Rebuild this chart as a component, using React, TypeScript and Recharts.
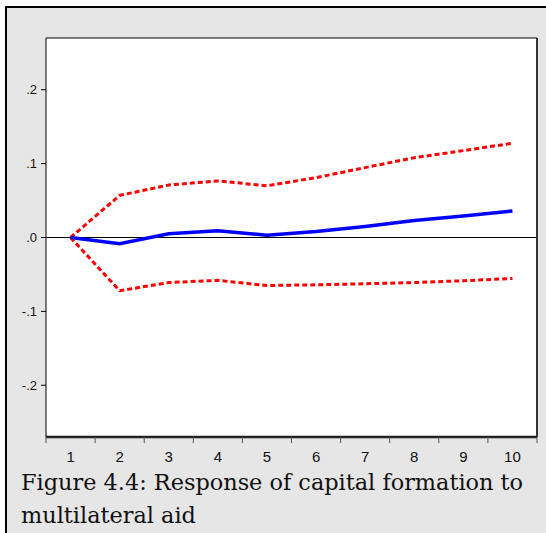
import React from "react";
import {
  LineChart,
  Line,
  XAxis,
  YAxis,
  CartesianGrid,
  ReferenceLine,
} from "recharts";

const periods = [1, 2, 3, 4, 5, 6, 7, 8, 9, 10];
const response = [0, -0.0085, 0.005, 0.009, 0.003, 0.008, 0.015, 0.023, 0.029, 0.036];
const upperBand = [0, 0.057, 0.071, 0.0766, 0.07, 0.081, 0.0946, 0.108, 0.1176, 0.1276];
const lowerBand = [0, -0.072, -0.061, -0.058, -0.065, -0.064, -0.0626, -0.061, -0.0585, -0.0554];

const yTicks = [-0.2, -0.1, 0, 0.1, 0.2];
const yTickLabels = ["-.2", "-.1", ".0", ".1", ".2"];
const xBoundaryTicks = [0.5, 1.5, 2.5, 3.5, 4.5, 5.5, 6.5, 7.5, 8.5, 9.5, 10.5];
const captionLines = ["Figure 4.4: Response of capital formation to", "multilateral aid"];

const data = periods.map((p, i) => ({
  period: p,
  response: response[i],
  upper: upperBand[i],
  lower: lowerBand[i],
}));

const tickFont = "'Liberation Sans', Arial, sans-serif";

const EmptyTick = () => <g />;

export default function App() {
  return (
    <div style={{ position: "absolute", left: 0, top: 0, width: 546, height: 533, background: "#fff", overflow: "hidden" }}>
      <div
        style={{
          position: "absolute",
          left: 5,
          top: 6,
          width: 541,
          height: 527,
          background: "#e6e6e6",
          borderLeft: "2px solid #000",
          borderTop: "2px solid #000",
          boxSizing: "border-box",
        }}
      />
      <div style={{ position: "absolute", left: 0, top: 0 }}>
        <LineChart
          width={546}
          height={533}
          data={data}
          margin={{ top: 37, right: 8, bottom: 66, left: 0 }}
        >
          <CartesianGrid horizontal={false} vertical={false} fill="#fff" fillOpacity={1} />
          <XAxis
            xAxisId="a_marks"
            dataKey="period"
            type="number"
            domain={[0.5, 10.5]}
            ticks={xBoundaryTicks}
            tick={EmptyTick}
            tickSize={6}
            tickLine={{ stroke: "#555", strokeWidth: 1 }}
            axisLine={{ stroke: "#222", strokeWidth: 2.5 }}
            height={1}
            interval={0}
            allowDataOverflow
          />
          <XAxis
            xAxisId="b_lab"
            dataKey="period"
            type="number"
            domain={[0.5, 10.5]}
            ticks={periods}
            interval={0}
            tickLine={false}
            axisLine={false}
            tickSize={5}
            tickMargin={8}
            tick={{ fill: "#111", fontSize: 15, fontFamily: tickFont }}
            height={29}
          />
          <XAxis
            xAxisId="c_top"
            orientation="top"
            type="number"
            domain={[0.5, 10.5]}
            tick={false}
            tickLine={false}
            axisLine={{ stroke: "#000", strokeWidth: 1 }}
            height={1}
          />
          <YAxis
            yAxisId="left"
            type="number"
            domain={[-0.27, 0.27]}
            ticks={yTicks}
            interval={0}
            tickFormatter={(v: number) => yTickLabels[yTicks.indexOf(v)] ?? ""}
            tickSize={5}
            tickMargin={4}
            tickLine={{ stroke: "#000", strokeWidth: 1 }}
            axisLine={{ stroke: "#000", strokeWidth: 1 }}
            tick={{ fill: "#111", fontSize: 13, fontFamily: tickFont }}
            width={46}
            allowDataOverflow
          />
          <YAxis
            yAxisId="right"
            orientation="right"
            type="number"
            domain={[-0.27, 0.27]}
            tick={false}
            tickLine={false}
            axisLine={{ stroke: "#333", strokeWidth: 2 }}
            width={1}
          />
          <ReferenceLine xAxisId="b_lab" yAxisId="left" y={0} stroke="#000" strokeWidth={1} />
          <Line
            xAxisId="b_lab"
            yAxisId="left"
            type="linear"
            dataKey="upper"
            stroke="#ff0000"
            strokeWidth={3}
            strokeDasharray="5 3"
            dot={false}
            isAnimationActive={false}
          />
          <Line
            xAxisId="b_lab"
            yAxisId="left"
            type="linear"
            dataKey="lower"
            stroke="#ff0000"
            strokeWidth={3}
            strokeDasharray="5 3"
            dot={false}
            isAnimationActive={false}
          />
          <Line
            xAxisId="b_lab"
            yAxisId="left"
            type="linear"
            dataKey="response"
            stroke="#0000ff"
            strokeWidth={3.5}
            dot={false}
            isAnimationActive={false}
          />
        </LineChart>
      </div>
      <div
        style={{
          position: "absolute",
          left: 21,
          top: 466,
          fontFamily: "'DejaVu Serif', serif",
          fontSize: 22.4,
          lineHeight: "33px",
          color: "#111",
          whiteSpace: "nowrap",
        }}
      >
        {captionLines.map((l) => (
          <div key={l}>{l}</div>
        ))}
      </div>
    </div>
  );
}
